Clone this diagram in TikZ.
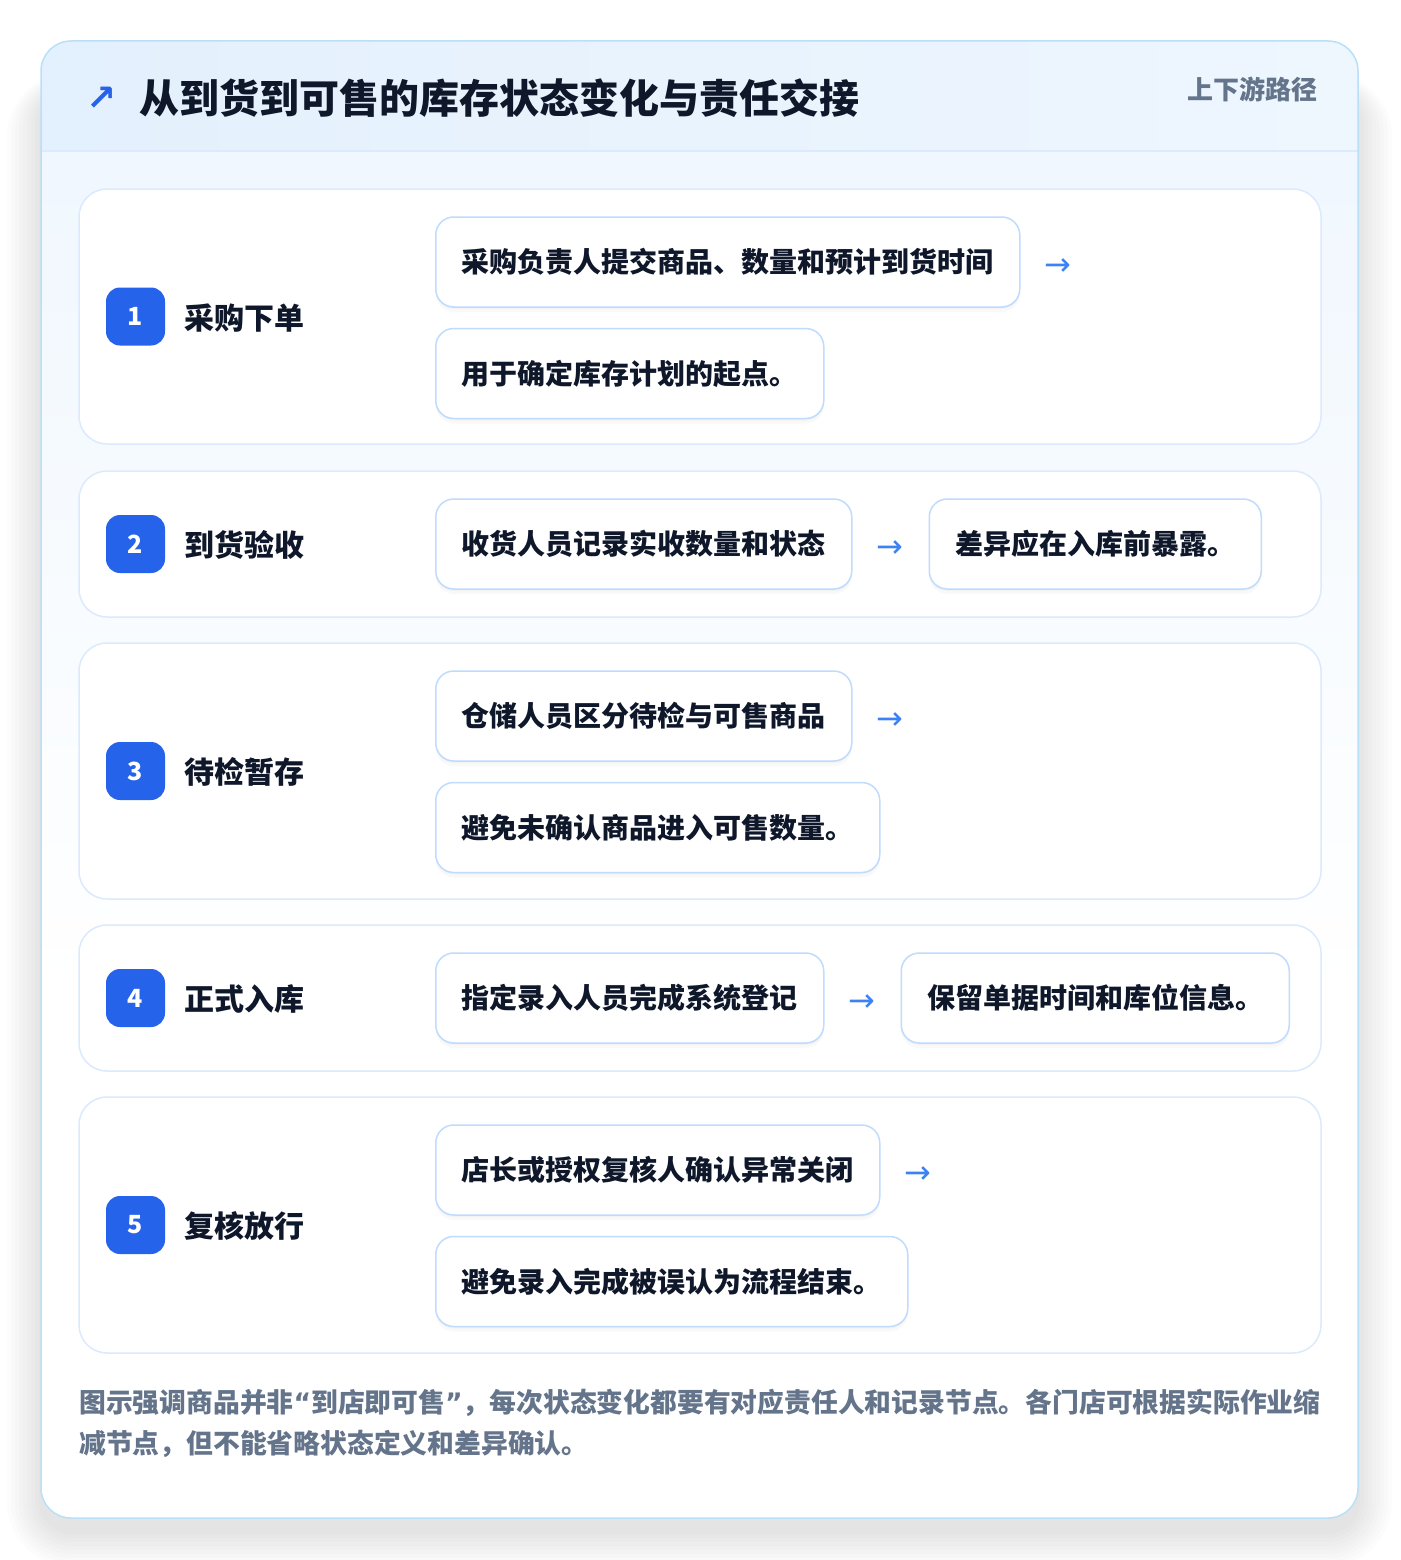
\documentclass[tikz,border=0pt]{standalone}
\usepackage{fontspec}
\setmainfont{Noto Sans CJK SC}
\newfontfamily\symfont{DejaVu Sans}
\usetikzlibrary{positioning,shadows}

\definecolor{brandblue}{HTML}{2563EB}
\definecolor{inkdark}{HTML}{0F172A}
\definecolor{slategray}{HTML}{64748B}
\definecolor{cardline}{HTML}{DBEAFE}
\definecolor{boxline}{HTML}{BFDBFE}
\definecolor{outerline}{HTML}{BAE0F7}
\definecolor{headfill}{HTML}{E3F0FD}
\definecolor{bodyfill}{HTML}{F0F7FE}
\definecolor{arrowblue}{HTML}{3B82F6}

\newcommand{\narrowquote}[1]{{\symfont\bfseries #1}}

\tikzset{
  rowcard/.style={draw=cardline, line width=1.5pt, fill=white, rounded corners=28pt,
    minimum width=1242pt, inner sep=0pt},
  stepbadge/.style={fill=brandblue, rounded corners=14pt, minimum width=59pt, minimum height=58pt,
    inner sep=0pt, text=white, font=\bfseries\fontsize{25}{25}\selectfont},
  steplabel/.style={anchor=west, inner sep=0pt, text=inkdark, font=\bfseries\fontsize{30}{30}\selectfont},
  notebox/.style={draw=boxline, line width=1.5pt, fill=white, rounded corners=18pt,
    minimum height=90pt, inner xsep=26pt, text=inkdark, font=\bfseries\fontsize{28}{28}\selectfont,
    drop shadow={shadow xshift=0pt, shadow yshift=-5pt, opacity=0.025, fill=inkdark},
    drop shadow={shadow xshift=0pt, shadow yshift=-2pt, opacity=0.025, fill=inkdark}},
  flowarrow/.style={inner sep=0pt, text=arrowblue, font=\symfont\fontsize{32}{32}\selectfont},
}

\begin{document}
\begin{tikzpicture}[x=1pt, y=-1pt]
\useasboundingbox[fill=white] (0,0) rectangle (1400,1560);

% soft shadow of the card
\foreach \s in {2,6,...,34}
  \fill[black, opacity=0.01, rounded corners=30pt+\s] (41-\s,90-\s/2) rectangle (1358+\s,1518+14+\s);

% card with header band
\begin{scope}
  \clip[rounded corners=30pt] (41,41) rectangle (1358,1518);
  \fill[top color=bodyfill, bottom color=white] (41,151) rectangle (1358,1000);
  \fill[white] (41,1000) rectangle (1358,1518);
  \fill[left color=headfill, right color=headfill!60!white] (41,41) rectangle (1358,151);
  \draw[cardline, line width=1.5pt] (41,151) -- (1358,151);
\end{scope}
\draw[outerline, line width=1.5pt, rounded corners=30pt] (41,41) rectangle (1358,1518);

\node[inner sep=0pt, text=brandblue, font=\symfont\bfseries\fontsize{36}{36}\selectfont] (titlemark) at (102,99) {↗};
\node[anchor=west, inner sep=0pt, text=inkdark, font=\bfseries\fontsize{40}{40}\selectfont] (title) at (139,98)
  {从到货到可售的库存状态变化与责任交接};
\node[anchor=east, inner sep=0pt, text=slategray, font=\bfseries\fontsize{26}{26}\selectfont] (pathtag) at (1318,89)
  {上下游路径};

% step 1
\node[rowcard, minimum height=255pt] (row1) at (700,316.5) {};
\node[stepbadge] (badge1) at (135.5,316.5) {1};
\node[steplabel] (label1) at (184,318) {采购下单};
\node[notebox, anchor=west] (a1) at (435,262) {采购负责人提交商品、数量和预计到货时间};
\node[flowarrow, right=24pt of a1.east, anchor=west, yshift=-5pt] (arr1) {→};
\node[notebox, below right=20pt and 0pt of a1.south west] (b1) {用于确定库存计划的起点。};

% step 2
\node[rowcard, minimum height=146pt] (row2) at (700,544) {};
\node[stepbadge] (badge2) at (135.5,544) {2};
\node[steplabel] (label2) at (184,545) {到货验收};
\node[notebox, anchor=west] (a2) at (435,544) {收货人员记录实收数量和状态};
\node[flowarrow, right=24pt of a2.east, anchor=west, yshift=-5pt] (arr2) {→};
\node[notebox, right=76pt of a2] (b2) {差异应在入库前暴露。};

% step 3
\node[rowcard, minimum height=256pt] (row3) at (700,771) {};
\node[stepbadge] (badge3) at (135.5,771) {3};
\node[steplabel] (label3) at (184,772) {待检暂存};
\node[notebox, anchor=west] (a3) at (435,716) {仓储人员区分待检与可售商品};
\node[flowarrow, right=24pt of a3.east, anchor=west, yshift=-5pt] (arr3) {→};
\node[notebox, below right=20pt and 0pt of a3.south west] (b3) {避免未确认商品进入可售数量。};

% step 4
\node[rowcard, minimum height=146pt] (row4) at (700,998) {};
\node[stepbadge] (badge4) at (135.5,998) {4};
\node[steplabel] (label4) at (184,999) {正式入库};
\node[notebox, anchor=west] (a4) at (435,998) {指定录入人员完成系统登记};
\node[flowarrow, right=24pt of a4.east, anchor=west, yshift=-5pt] (arr4) {→};
\node[notebox, right=76pt of a4] (b4) {保留单据时间和库位信息。};

% step 5
\node[rowcard, minimum height=256pt] (row5) at (700,1225) {};
\node[stepbadge] (badge5) at (135.5,1225) {5};
\node[steplabel] (label5) at (184,1226) {复核放行};
\node[notebox, anchor=west] (a5) at (435,1170) {店长或授权复核人确认异常关闭};
\node[flowarrow, right=24pt of a5.east, anchor=west, yshift=-5pt] (arr5) {→};
\node[notebox, below right=20pt and 0pt of a5.south west] (b5) {避免录入完成被误认为流程结束。};

\node[anchor=north west, inner sep=0pt, align=left, text=slategray,
  font=\bfseries\fontsize{26.8}{41}\selectfont] (footnote) at (79,1389)
  {图示强调商品并非\narrowquote{“}到店即可售\narrowquote{”}，每次状态变化都要有对应责任人和记录节点。各门店可根据实际作业缩\\
   减节点，但不能省略状态定义和差异确认。};
\end{tikzpicture}
\end{document}
